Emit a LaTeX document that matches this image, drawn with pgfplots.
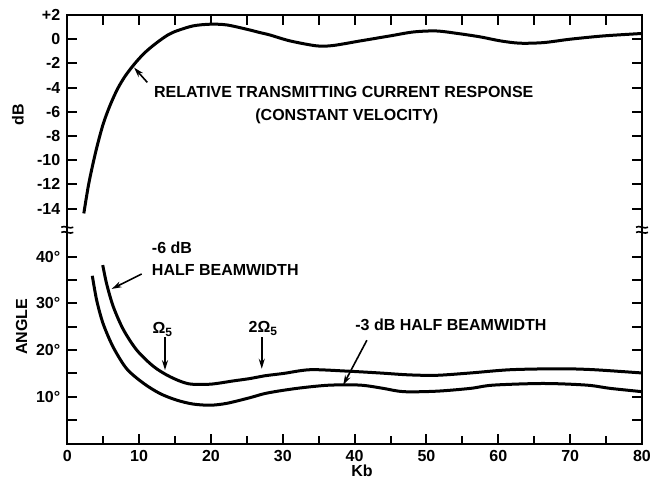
\documentclass[border=0pt]{standalone}
\usepackage{pgfplots}
\pgfplotsset{compat=1.18}
\usepackage{fontspec}
\setmainfont{Liberation Sans}
\usetikzlibrary{arrows.meta}
\pgfplotsset{
  common/.style={
    scale only axis, width=287.35pt,
    xmin=0, xmax=80,
    axis line style={draw=none},
    ytick pos=both,
    ticklabel style={font=\fontsize{8}{9.6}\selectfont\bfseries},
    clip=false,
  },
  crv/.style={black, line width=1.5pt, smooth, no markers},
}
\tikzset{tk/.style={black, line width=1pt}}
\begin{document}
\begin{tikzpicture}[font=\fontsize{8}{9.6}\selectfont\bfseries]
\path (0pt,0pt) (334pt,-240.5pt);
% ---------------- top axis: dB ----------------
\begin{axis}[common, at={(33.65pt,-113.35pt)}, anchor=south west, height=105.85pt,
  xtick pos=right,
  xtick={0,5,...,80}, xticklabels={},
  ymin=-15.5, ymax=2,
  ytick={-14,-12,-10,-8,-6,-4,-2,0,2},
  yticklabels={-14,-12,-10,-8,-6,-4,-2,0,+2}]
\draw[line width=1pt] (rel axis cs:0,0) -- (rel axis cs:0,1) -- (rel axis cs:1,1) -- (rel axis cs:1,0);
\pgfplotsinvokeforeach{5,10,15,20,25,30,35,40,45,50,55,60,65,70,75}{
  \draw[tk] (axis cs:#1,2) -- ++(0pt,-5pt);
}
\pgfplotsinvokeforeach{-14,-12,-10,-8,-6,-4,-2,0}{
  \draw[tk] (axis cs:0,#1) -- ++(5pt,0pt);
  \draw[tk] (axis cs:80,#1) -- ++(-5pt,0pt);
}
\addplot[crv] coordinates {
(2.3,-14.4) (3,-11.9) (4,-9.2) (5,-7.0) (6,-5.4) (7,-4.1) (8,-3.1)
(9,-2.3) (10,-1.6) (11,-1.0) (12,-0.5) (13,-0.05) (14,0.35)
(15.2,0.68) (17.5,1.1) (19.9,1.24)
(22.2,1.18) (25,0.82) (26.8,0.55) (28.2,0.35) (31,-0.14) (34.7,-0.55)
(37,-0.52) (40.8,-0.14) (44.9,0.27) (48.2,0.6) (51.4,0.68) (54.5,0.46)
(57.5,0.19) (60.3,-0.14) (63,-0.33) (66.3,-0.28) (70,0) (74.6,0.27)
(79.6,0.46) (80,0.48)
};
\node[anchor=base west] at (axis cs:11.1,-4.86) {RELATIVE TRANSMITTING CURRENT RESPONSE};
\node[anchor=base west] at (axis cs:25.2,-6.74) {(CONSTANT VELOCITY)};
\draw[-{Stealth[length=5pt,width=3pt]}, line width=0.8pt] (axis cs:11.14,-3.57) -- (axis cs:9.3,-2.35);
\end{axis}
% ---------------- bottom axis: angle ----------------
\begin{axis}[common, at={(33.65pt,-221.75pt)}, anchor=south west, height=105.1pt,
  xtick pos=left,
  xtick={0,10,...,80},
  xticklabels={0,10,20,30,40,50,60,70,80},
  ymin=0, ymax=45,
  ytick={10,20,30,40},
  yticklabels={10°,20°,30°,40°}]
\draw[line width=1pt] (rel axis cs:0,1) -- (rel axis cs:0,0) -- (rel axis cs:1,0) -- (rel axis cs:1,1);
\pgfplotsinvokeforeach{10,20,30,40,50,60,70}{
  \draw[tk] (axis cs:#1,0) -- ++(0pt,5pt);
}
\pgfplotsinvokeforeach{5,15,25,35,45,55,65,75}{
  \draw[tk] (axis cs:#1,0) -- ++(0pt,4pt);
}
\pgfplotsinvokeforeach{5,10,15,20,25,30,35,40}{
  \draw[tk] (axis cs:0,#1) -- ++(5pt,0pt);
  \draw[tk] (axis cs:80,#1) -- ++(-5pt,0pt);
}
% -6 dB half beamwidth
\addplot[crv] coordinates {
(4.93,38.2) (5.49,34.1) (6.4,29.3) (7.8,24.4) (9.67,20.0) (12.0,16.5)
(14.3,14.3) (16.85,12.8) (19.9,12.7) (23.1,13.4) (25.4,13.9) (27.5,14.5)
(30.1,15.0) (33.8,15.8) (38.9,15.5) (43.5,15.1) (47.5,14.7) (51.4,14.6)
(56.1,15.1) (61.7,15.8) (68.6,16.0) (73.3,15.8) (80,15.1)
};
% -3 dB half beamwidth
\addplot[crv] coordinates {
(3.48,35.9) (4.1,30.6) (5.0,25.6) (6.4,20.6) (8.27,16.0) (10.6,12.9)
(12.9,10.7) (15.2,9.3) (17.5,8.45) (19.9,8.2) (22.2,8.6) (25.4,9.8)
(27.5,10.7) (30.1,11.4) (33,12.0) (36.6,12.5) (40.8,12.5) (44,11.8)
(46.8,11.1) (51.4,11.2) (56.1,11.8) (59.3,12.5) (66.3,12.85) (72.3,12.5)
(75.6,11.8) (80,11.1)
};
\node[anchor=base west] at (axis cs:10.8,40.6) {-6 dB};
\node[anchor=base west] at (axis cs:10.8,35.9) {HALF BEAMWIDTH};
\draw[-{Stealth[length=5pt,width=3pt]}, line width=0.8pt] (axis cs:10.36,36.3) -- (axis cs:6.18,33.1);
\node[anchor=base] at (axis cs:13.3,23.6) {Ω\textsubscript{5}};
\draw[-{Stealth[length=5pt,width=3pt]}, line width=0.8pt] (axis cs:13.6,22.8) -- (axis cs:13.6,15.7);
\node[anchor=base] at (axis cs:27.3,23.8) {2Ω\textsubscript{5}};
\draw[-{Stealth[length=5pt,width=3pt]}, line width=0.8pt] (axis cs:27.07,22.8) -- (axis cs:27.07,16.0);
\node[anchor=base] at (axis cs:53.4,24.2) {-3 dB HALF BEAMWIDTH};
\draw[-{Stealth[length=5pt,width=3pt]}, line width=0.8pt] (axis cs:41.7,22.1) -- (axis cs:38.4,12.5);
\end{axis}
% axis titles
\node[rotate=90] at (9pt,-57.5pt) {dB};
\node[rotate=90] at (10.85pt,-163.35pt) {ANGLE};
\node at (181pt,-235.5pt) {Kb};
% axis breaks
\foreach \xx in {33.65,321.0} {
  \draw[line width=1pt] (\xx pt,-113.35pt) -- (\xx pt,-116.65pt);
  \draw[line width=0.8pt] (\xx pt-3pt,-113.6pt) .. controls (\xx pt-1.5pt,-112.4pt) and (\xx pt+1.5pt,-114.8pt) .. (\xx pt+3pt,-113.6pt);
  \draw[line width=0.8pt] (\xx pt-3pt,-116.2pt) .. controls (\xx pt-1.5pt,-115pt) and (\xx pt+1.5pt,-117.4pt) .. (\xx pt+3pt,-116.2pt);
}
\end{tikzpicture}
\end{document}
